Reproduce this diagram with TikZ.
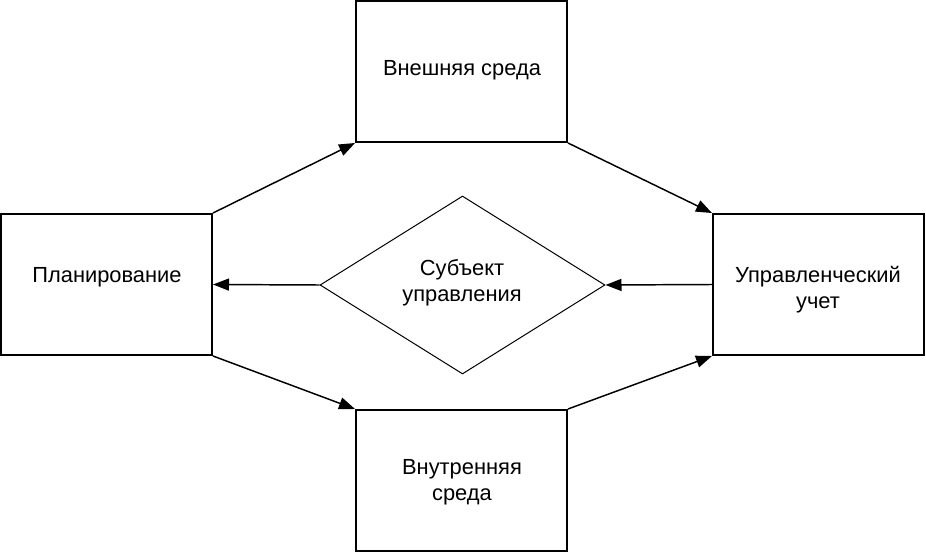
\documentclass[tikz,border=0pt]{standalone}
\usepackage{fontspec}
\setmainfont{Liberation Sans}
\usetikzlibrary{arrows.meta,shapes.geometric}
\begin{document}
\begin{tikzpicture}[x=0.75pt,y=-0.75pt,
  box/.style={draw,line width=1.5pt,minimum width=158.25pt,minimum height=105.75pt,inner sep=0pt},
  dia/.style={draw,diamond,line width=0.75pt,minimum width=213.75pt,minimum height=133.5pt,inner sep=0pt},
  lbl/.style={font=\fontsize{16.4}{19.5}\selectfont,align=center,inner sep=0pt},
  arr/.style={line width=1.1pt,-{Triangle[length=12pt,width=9pt]}}]
\useasboundingbox (0,0) rectangle (926,553);
\node[box] (top) at (461.5,71.5) {};
\node[box] (left) at (106.5,284.5) {};
\node[box] (right) at (818.5,284.5) {};
\node[box] (bot) at (461.5,480.5) {};
\node[dia] (sub) at (462.5,285) {};
\node[lbl] (ttop) at (462,70) {Внешняя среда};
\node[lbl] (tleft) at (107,277) {Планирование};
\node[lbl] (tright) at (818,290) {Управленческий\\учет};
\node[lbl] (tsub) at (462,283) {Субъект\\управления};
\node[lbl] (tbot) at (462,482) {Внутренняя\\среда};
\draw[arr] (left.north east) -- (top.south west);
\draw[arr] (top.south east) -- (right.north west);
\draw[arr] (left.south east) -- (bot.north west);
\draw[arr] (bot.north east) -- (right.south west);
\draw[arr] (right.west) -- (sub.east);
\draw[arr] (sub.west) -- (left.east);
\end{tikzpicture}
\end{document}
